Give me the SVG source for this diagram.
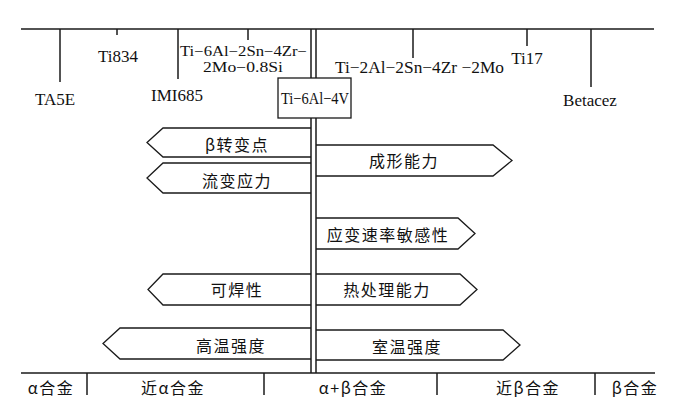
<svg xmlns="http://www.w3.org/2000/svg" width="693" height="405" viewBox="0 0 693 405">
<style>
.ln{stroke:#1a1a1a;stroke-width:1.5;fill:none}
.ar{stroke:#1a1a1a;stroke-width:1.3;fill:none;stroke-linejoin:miter}
.lat{font-family:"Liberation Serif","Times New Roman",serif;font-size:17px;fill:#111}
.sm{font-size:14px}
.cn{font-family:"Noto Sans CJK SC","Noto Sans CJK TC",sans-serif;font-size:16px;fill:#111;letter-spacing:1.5px;text-anchor:middle}
</style>
<rect width="693" height="405" fill="#fff"/>
<g id="connectors">
<line class="ln" x1="21" y1="29" x2="654" y2="29"/>
<line class="ln" x1="60" y1="29" x2="60" y2="82"/>
<line class="ln" x1="117" y1="29" x2="117" y2="35"/>
<line class="ln" x1="178" y1="29" x2="178" y2="79"/>
<line class="ln" x1="248" y1="29" x2="248" y2="40"/>
<line class="ln" x1="413" y1="29" x2="413" y2="58"/>
<line class="ln" x1="527" y1="29" x2="527" y2="46"/>
<line class="ln" x1="591" y1="29" x2="591" y2="87"/>
<line class="ln" x1="21" y1="373" x2="655" y2="373"/>
<line class="ln" x1="87" y1="373" x2="87" y2="395"/>
<line class="ln" x1="264" y1="373" x2="264" y2="395"/>
<line class="ln" x1="437" y1="373" x2="437" y2="395"/>
<line class="ln" x1="595" y1="373" x2="595" y2="395"/>
<line class="ln" x1="311" y1="29" x2="311" y2="373"/>
<line class="ln" x1="316" y1="29" x2="316" y2="373"/>
</g>
<g id="alloy-TA5E"><text class="lat" x="55" y="105" text-anchor="middle">TA5E</text></g>
<g id="alloy-Ti834"><text class="lat" x="118" y="62" text-anchor="middle">Ti834</text></g>
<g id="alloy-IMI685"><text class="lat" x="177" y="101" text-anchor="middle">IMI685</text></g>
<g id="alloy-Ti6242S">
<text class="lat sm" x="180" y="56" textLength="127" lengthAdjust="spacingAndGlyphs">Ti−6Al−2Sn−4Zr−</text>
<text class="lat sm" x="203" y="72" textLength="80" lengthAdjust="spacingAndGlyphs">2Mo−0.8Si</text>
</g>
<g id="alloy-Ti6242"><text class="lat" x="335" y="73" textLength="169" lengthAdjust="spacingAndGlyphs">Ti−2Al−2Sn−4Zr −2Mo</text></g>
<g id="alloy-Ti17"><text class="lat" x="527" y="64" text-anchor="middle">Ti17</text></g>
<g id="alloy-Betacez"><text class="lat" x="590" y="106" text-anchor="middle">Betacez</text></g>
<g id="alloy-Ti64">
<rect x="278" y="78" width="73" height="40" fill="#fff" stroke="#1a1a1a" stroke-width="1.3"/>
<text class="lat" x="281" y="104" textLength="68" lengthAdjust="spacingAndGlyphs">Ti−6Al−4V</text>
</g>
<g id="arrow-beta-transus">
<path class="ar" d="M311,128 H163 L147,142.5 L163,157 H311"/>
<text class="cn" x="237" y="151">β转变点</text>
</g>
<g id="arrow-flow-stress">
<path class="ar" d="M311,163 H163 L147,178 L163,193 H311"/>
<text class="cn" x="237" y="187">流变应力</text>
</g>
<g id="arrow-formability">
<path class="ar" d="M316,145 H493 L512,160.5 L493,176 H316"/>
<text class="cn" x="404" y="167">成形能力</text>
</g>
<g id="arrow-strain-rate">
<path class="ar" d="M316,218 H458 L475,233.5 L458,249 H316"/>
<text class="cn" x="388" y="241">应变速率敏感性</text>
</g>
<g id="arrow-weldability">
<path class="ar" d="M311,274 H163 L148,289.5 L163,305 H311"/>
<text class="cn" x="237" y="296">可焊性</text>
</g>
<g id="arrow-heat-treat">
<path class="ar" d="M316,274 H460 L477,289.5 L460,305 H316"/>
<text class="cn" x="387" y="296">热处理能力</text>
</g>
<g id="arrow-high-temp">
<path class="ar" d="M311,328 H120 L103,343.5 L120,359 H311"/>
<text class="cn" x="231" y="352">高温强度</text>
</g>
<g id="arrow-room-temp">
<path class="ar" d="M316,330 H503 L520,345 L503,360 H316"/>
<text class="cn" x="407" y="353">室温强度</text>
</g>
<g id="class-alpha"><text class="cn" x="51" y="394">α合金</text></g>
<g id="class-near-alpha"><text class="cn" x="173" y="394">近α合金</text></g>
<g id="class-alpha-beta"><text class="cn" x="353" y="394">α+β合金</text></g>
<g id="class-near-beta"><text class="cn" x="528" y="394">近β合金</text></g>
<g id="class-beta"><text class="cn" x="635" y="394">β合金</text></g>
</svg>
